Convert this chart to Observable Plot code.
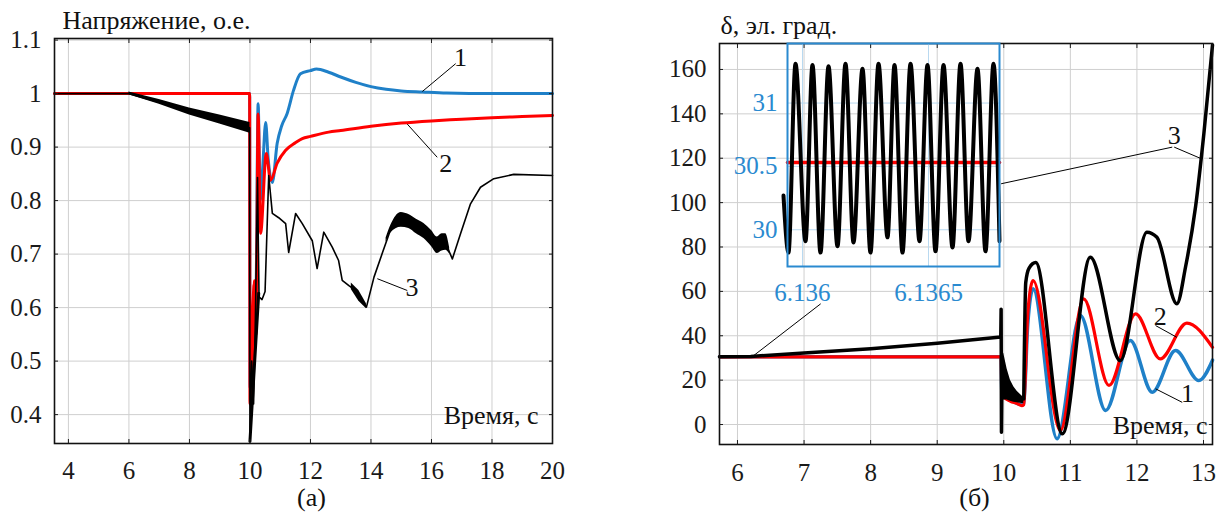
<!DOCTYPE html>
<html><head><meta charset="utf-8">
<script src="https://cdn.jsdelivr.net/npm/d3@7"></script>
<script src="https://cdn.jsdelivr.net/npm/@observablehq/plot@0.6"></script>
<style>
body{margin:0;background:#fff;}
#wrap{position:relative;width:1216px;height:517px;background:#fff;overflow:hidden;}
#wrap svg{position:absolute;top:0;}
#wrap svg text{font-family:"Liberation Serif","DejaVu Serif",serif !important;}
#wrap g[aria-label$="tick label"] text{font-size:25px !important;}
#wrap g[aria-label="text"] text{font-size:26px !important;}
</style></head><body><div id="wrap"></div>
<script>
// ---------- Panel (а): voltage ----------
const aXTicks = [4, 6, 8, 10, 12, 14, 16, 18, 20];
const aYTicks = [0.4, 0.5, 0.6, 0.7, 0.8, 0.9, 1, 1.1];
const aTitle = "Напряжение, о.е.";
const aXLabel = "Время, с";
const aCaption = "(a)";

const aBlueT = [3.54, 9.99, 10.0, 10.1, 10.2, 10.27, 10.34, 10.42, 10.52, 10.6, 10.74, 10.9, 11.05, 11.23, 11.44, 11.67, 12.0, 12.2, 12.6, 13.0, 13.5, 14.0, 14.5, 15.0, 15.7, 16.5, 18, 20];
const aBlueV = [1.0, 1.0, 0.45, 0.55, 0.62, 0.981, 0.80, 0.86, 0.946, 0.88, 0.834, 0.907, 0.94, 0.963, 1.006, 1.037, 1.043, 1.046, 1.040, 1.031, 1.021, 1.013, 1.008, 1.005, 1.003, 1.001, 1.0, 1.0];

const aRedT = [3.54, 9.99, 10.0, 10.06, 10.1, 10.15, 10.2, 10.27, 10.35, 10.54, 10.68, 10.9, 11.18, 11.5, 11.73, 12.0, 12.6, 13, 14, 15, 16, 17, 18, 19, 20];
const aRedV = [1.0, 1.0, 0.42, 0.6, 0.48, 0.65, 0.55, 0.962, 0.739, 0.888, 0.838, 0.87, 0.894, 0.908, 0.916, 0.92, 0.928, 0.931, 0.939, 0.945, 0.949, 0.952, 0.955, 0.957, 0.959];

const aBlackT = [3.54, 6.0, 7, 8, 9, 9.99, 10.0, 10.06, 10.12, 10.18, 10.25, 10.3, 10.4, 10.5, 10.62, 10.74, 10.95, 11.18, 11.28, 11.51, 11.73, 12.06, 12.22, 12.44, 12.72, 12.93, 13.05, 13.27, 13.42, 13.85, 14.1, 14.37, 14.65, 14.98, 15.41, 15.75, 16.19, 16.35, 16.47, 16.69, 16.96, 17.29, 17.62, 18.06, 18.72, 20];
const aBlackV = [1.0, 1.0, 0.984, 0.967, 0.952, 0.936, 0.35, 0.5, 0.42, 0.58, 0.843, 0.62, 0.615, 0.63, 0.847, 0.776, 0.768, 0.757, 0.703, 0.776, 0.757, 0.725, 0.673, 0.741, 0.713, 0.688, 0.651, 0.641, 0.635, 0.601, 0.657, 0.701, 0.746, 0.764, 0.75, 0.743, 0.716, 0.722, 0.72, 0.691, 0.738, 0.794, 0.825, 0.841, 0.849, 0.847];
const aBlackDropT = [10.0, 10.29];
const aBlackDropV = [0.35, 0.627];

// oscillation envelopes of curve 3
const aBand1T = [6, 7, 8, 9, 10];
const aBand1Lo = [0.998, 0.980, 0.960, 0.943, 0.926];
const aBand1Hi = [1.003, 0.989, 0.973, 0.960, 0.946];
const aBand2T = [13.35, 13.6, 13.85];
const aBand2Lo = [0.634, 0.612, 0.598];
const aBand2Hi = [0.646, 0.632, 0.607];
const aBand3T = [14.5, 14.65, 15.0, 15.25, 15.5, 15.75, 16.0, 16.19, 16.35, 16.47, 16.6];
const aBand3Lo = [0.722, 0.739, 0.750, 0.748, 0.738, 0.729, 0.714, 0.701, 0.706, 0.707, 0.700];
const aBand3Hi = [0.730, 0.753, 0.778, 0.774, 0.765, 0.757, 0.744, 0.732, 0.738, 0.738, 0.712];
// oscillating red envelope right after the fault
const aRedBandT = [10.0, 10.05, 10.1, 10.15, 10.2];
const aRedBandLo = [0.42, 0.46, 0.50, 0.53, 0.55];
const aRedBandHi = [0.45, 0.60, 0.64, 0.65, 0.62];

const aLabels = ["1", "2", "3"];
const aLabelT = [16.96, 16.47, 15.36];
const aLabelV = [1.068, 0.869, 0.638];
const aLeadT1 = [16.8, 16.19, 15.2];
const aLeadV1 = [1.056, 0.881, 0.632];
const aLeadT2 = [15.7, 15.2, 14.21];
const aLeadV2 = [1.004, 0.943, 0.654];

// ---------- Panel (б): rotor angle ----------
const bXTicks = [6, 7, 8, 9, 10, 11, 12, 13];
const bYTicks = [0, 20, 40, 60, 80, 100, 120, 140, 160];
const bTitle = "δ, эл. град.";
const bXLabel = "Время, с";
const bCaption = "(б)";

const bBlueT = [5.73, 9.96, 9.97, 10.1, 10.27, 10.3, 10.36, 10.44, 10.80, 11.15, 11.53, 11.9, 12.23, 12.58, 12.93, 13.135];
const bBlueV = [30.5, 30.5, 14, 11, 9, 9.5, 45, 61.2, -6.4, 49.1, 6.3, 37.9, 14.6, 33.4, 19.8, 29];

const bRedT = [5.73, 9.96, 9.97, 10.0, 10.1, 10.2, 10.27, 10.3, 10.36, 10.44, 10.85, 11.2, 11.58, 11.98, 12.35, 12.75, 13.135];
const bRedV = [30.5, 30.5, 14.6, 12.5, 10.5, 9.5, 8.5, 9, 50, 64.9, -2.7, 56.6, 17.6, 49.9, 29.6, 45.7, 34.8];

const bBlackT1 = [5.73, 6.2, 7, 8, 9, 9.955, 9.96, 9.965, 9.975];
const bBlackV1 = [30.5, 30.7, 32.2, 34.2, 36.6, 39.4, 52, -3.5, 30];
const bBandT = [9.975, 10.0, 10.05, 10.1, 10.15, 10.2, 10.27, 10.3];
const bBandLo = [9, 11, 11, 10.5, 10, 9.8, 9.5, 9.5];
const bBandHi = [33, 32, 25, 20, 17, 15, 13, 12];
const bBlackT2 = [10.3, 10.33, 10.38, 10.48, 10.88, 11.3, 11.75, 12.15, 12.3, 12.6, 12.73, 12.88, 13.005, 13.135];
const bBlackV2 = [11.5, 64, 70.5, 73, -4.2, 75.4, 28.8, 86.7, 84.4, 54.4, 71, 98, 131, 171];

const bLabels = ["3", "2", "1"];
const bLabelT = [12.56, 12.35, 12.76];
const bLabelV = [130.2, 48.4, 14];
const bLeadT1 = [12.53, 12.56, 12.28, 12.68, 7.25];
const bLeadV1 = [125, 125, 44.6, 10, 54.4];
const bLeadT2 = [9.96, 12.95, 12.6, 12.28, 6.245];
const bLeadV2 = [108.5, 120, 39.3, 16.1, 31.1];

// ---------- Inset (zoom of curve 3 near t = 6.136 s) ----------
const iXTicks = [6.136, 6.1365];
const iYTicks = [30, 30.5, 31];
const iBlackT = [6.1359246, 6.1359444, 6.1359722, 6.1360119, 6.1360397, 6.1360714, 6.1361032, 6.1361389, 6.1361706, 6.1362024, 6.1362381, 6.1362698, 6.1363016, 6.1363373, 6.1363651, 6.1363968, 6.1364286, 6.1364643, 6.1364960, 6.1365278, 6.1365595, 6.1365952, 6.1366270, 6.1366587, 6.1366944, 6.1367262, 6.1367579, 6.1367817];
const iBlackV = [30.27, 29.82, 31.31, 29.91, 31.30, 29.82, 31.29, 29.87, 31.31, 29.90, 31.27, 29.82, 31.31, 29.94, 31.30, 29.82, 31.31, 29.91, 31.30, 29.83, 31.30, 29.86, 31.31, 29.91, 31.27, 29.83, 31.31, 29.91];
const iRedT = [6.1359405, 6.1367817];
const iRedV = [30.53, 30.53];

// ---------- styles ----------
const FONT = '"Liberation Serif", "DejaVu Serif", serif';
const GRID = "#cfcfcf";
const BLUE = "#1f80c8";
const RED = "#ff0000";
const IBLUE = "#2a8ad0";
const wrap = document.getElementById("wrap");
const fmt = d => String(d);

function place(svg, left) {
  svg.style.left = left + "px";
  wrap.appendChild(svg);
}
function baseStyle() {
  return {fontFamily: FONT, fontSize: "25px", background: "transparent", color: "#1a1a1a", overflow: "visible", maxWidth: "none"};
}
function boxAxes(xt, yt, padX, padY) {
  return [
    Plot.frame({stroke: "#111", strokeWidth: 1.6}),
    Plot.axisX(xt, {anchor: "bottom", tickSize: -4, tickPadding: padX, tickFormat: fmt, label: null, fontSize: 25, fontFamily: FONT}),
    Plot.axisX(xt, {anchor: "top", tickSize: -4, fill: "none", label: null}),
    Plot.axisY(yt, {anchor: "left", tickSize: -4, tickPadding: padY, tickFormat: fmt, label: null, fontSize: 25, fontFamily: FONT}),
    Plot.axisY(yt, {anchor: "right", tickSize: -4, fill: "none", label: null})
  ];
}
const T = {fontSize: 26, fontFamily: FONT, fill: "#111"};

// Panel (а)
const plotA = Plot.plot({
  width: 600, height: 517,
  marginLeft: 54, marginRight: 48, marginTop: 38, marginBottom: 74,
  style: baseStyle(),
  x: {domain: [3.54, 20], label: null},
  y: {domain: [0.346, 1.103], label: null},
  marks: [
    Plot.gridX(aXTicks, {stroke: GRID, strokeOpacity: 1}),
    Plot.gridY(aYTicks, {stroke: GRID, strokeOpacity: 1}),
    Plot.line(aBlueT, {x: aBlueT, y: aBlueV, stroke: BLUE, strokeWidth: 3, curve: "monotone-x"}),
    Plot.areaY(aRedBandT, {x: aRedBandT, y1: aRedBandLo, y2: aRedBandHi, fill: RED}),
    Plot.line(aRedT, {x: aRedT, y: aRedV, stroke: RED, strokeWidth: 3, curve: "monotone-x"}),
    Plot.areaY(aBand1T, {x: aBand1T, y1: aBand1Lo, y2: aBand1Hi, fill: "#000"}),
    Plot.areaY(aBand2T, {x: aBand2T, y1: aBand2Lo, y2: aBand2Hi, fill: "#000"}),
    Plot.areaY(aBand3T, {x: aBand3T, y1: aBand3Lo, y2: aBand3Hi, fill: "#000", curve: "monotone-x"}),
    Plot.line(aBlackT, {x: aBlackT, y: aBlackV, stroke: "#000", strokeWidth: 1.6}),
    Plot.line(aBlackDropT, {x: aBlackDropT, y: aBlackDropV, stroke: "#000", strokeWidth: 3}),
    Plot.link(aLabels, {x1: aLeadT1, y1: aLeadV1, x2: aLeadT2, y2: aLeadV2, stroke: "#000", strokeWidth: 1}),
    Plot.text(aLabels, {x: aLabelT, y: aLabelV, text: d => d, ...T}),
    ...boxAxes(aXTicks, aYTicks, 21.3, 17),
    Plot.text([aXLabel], {frameAnchor: "bottom-right", text: d => d, textAnchor: "end", lineAnchor: "bottom", dx: -14, dy: -20, ...T}),
    Plot.text([aTitle], {frameAnchor: "top-left", text: d => d, textAnchor: "start", lineAnchor: "bottom", dx: 8, dy: -10, ...T}),
    Plot.text([aCaption], {frameAnchor: "bottom", text: d => d, lineAnchor: "middle", dx: 8, dy: 54, ...T})
  ]
});
place(plotA, 0);

// Panel (б)
const plotB = Plot.plot({
  width: 576, height: 517,
  marginLeft: 79, marginRight: 4, marginTop: 43, marginBottom: 73,
  style: baseStyle(),
  x: {domain: [5.73, 13.135], label: null},
  y: {domain: [-9, 171.7], label: null},
  marks: [
    Plot.gridX(bXTicks, {stroke: GRID, strokeOpacity: 1}),
    Plot.gridY(bYTicks, {stroke: GRID, strokeOpacity: 1}),
    Plot.line(bBlueT, {x: bBlueT, y: bBlueV, stroke: BLUE, strokeWidth: 3.5, curve: "monotone-x"}),
    Plot.line(bRedT, {x: bRedT, y: bRedV, stroke: RED, strokeWidth: 3.2, curve: "monotone-x"}),
    Plot.areaY(bBandT, {x: bBandT, y1: bBandLo, y2: bBandHi, fill: "#000"}),
    Plot.line(bBlackT1, {x: bBlackT1, y: bBlackV1, stroke: "#000", strokeWidth: 3.5}),
    Plot.line(bBlackT2, {x: bBlackT2, y: bBlackV2, stroke: "#000", strokeWidth: 3.5, curve: "monotone-x"}),
    Plot.link(bLeadT1, {x1: bLeadT1, y1: bLeadV1, x2: bLeadT2, y2: bLeadV2, stroke: "#000", strokeWidth: 1}),
    Plot.text(bLabels, {x: bLabelT, y: bLabelV, text: d => d, ...T}),
    ...boxAxes(bXTicks, bYTicks, 22.3, 17),
    Plot.text([bXLabel], {frameAnchor: "bottom-right", text: d => d, textAnchor: "end", lineAnchor: "bottom", dx: -5, dy: -11, ...T}),
    Plot.text([bTitle], {frameAnchor: "top-left", text: d => d, textAnchor: "start", lineAnchor: "bottom", dx: 1, dy: -10, ...T}),
    Plot.text([bCaption], {frameAnchor: "bottom", text: d => d, lineAnchor: "middle", dx: 8.5, dy: 53, ...T})
  ]
});
place(plotB, 640);

// Inset
const plotI = Plot.plot({
  width: 300, height: 320,
  marginLeft: 67, marginRight: 21, marginTop: 43, marginBottom: 54,
  style: baseStyle(),
  x: {domain: [6.1359405, 6.1367817], label: null},
  y: {domain: [29.71, 31.47], label: null},
  marks: [
    Plot.gridX(iXTicks, {stroke: "#b9d9f0", strokeOpacity: 1}),
    Plot.gridY(iYTicks, {stroke: "#b9d9f0", strokeOpacity: 1}),
    Plot.line(iRedT, {x: iRedT, y: iRedV, stroke: RED, strokeWidth: 3.5}),
    Plot.line(iBlackT, {x: iBlackT, y: iBlackV, stroke: "#000", strokeWidth: 4, curve: "monotone-x"}),
    Plot.frame({stroke: IBLUE, strokeWidth: 2}),
    Plot.axisX(iXTicks, {anchor: "bottom", tickSize: 0, tickPadding: 17, tickFormat: fmt, fill: IBLUE, label: null, fontSize: 25, fontFamily: FONT}),
    Plot.axisY(iYTicks, {anchor: "left", tickSize: 0, tickPadding: 10, tickFormat: fmt, fill: IBLUE, label: null, fontSize: 25, fontFamily: FONT})
  ]
});
place(plotI, 720);
</script>
</body></html>
